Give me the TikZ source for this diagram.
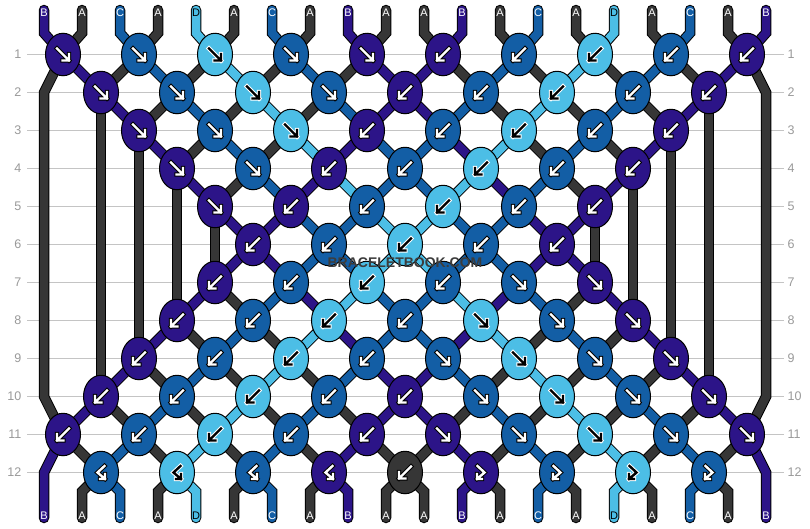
\documentclass[tikz,border=0pt]{standalone}
\usepackage{fontspec}
\setmainfont{Liberation Sans}
\usetikzlibrary{shapes.geometric}
\definecolor{colA}{HTML}{363636}
\definecolor{colB}{HTML}{2C1488}
\definecolor{colC}{HTML}{135EA5}
\definecolor{colD}{HTML}{4CBEE6}
\colorlet{arfgA}{white}\colorlet{arfgB}{white}\colorlet{arfgC}{white}\colorlet{arfgD}{black}
\colorlet{arbgA}{black}\colorlet{arbgB}{black}\colorlet{arbgC}{black}\colorlet{arbgD}{white}
\colorlet{labfgA}{white}\colorlet{labfgB}{white}\colorlet{labfgC}{white}\colorlet{labfgD}{black}
\definecolor{gridc}{HTML}{C4C4C4}
\definecolor{numc}{HTML}{9A9A9A}
\definecolor{wmc}{HTML}{3C3C3C}
\pgfdeclarelayer{grid}\pgfdeclarelayer{strands}\pgfsetlayers{grid,strands,main}
\tikzset{
 knot/.style={ellipse, draw=black, line width=1pt, minimum width=35pt, minimum height=42.5pt, inner sep=0pt},
 strandout/.style={line width=10.5pt, draw=black, line join=miter, line cap=round},
 strandin/.style={line width=8.5pt, line join=miter, line cap=round},
 lab/.style={font=\fontsize{11}{11}\selectfont, inner sep=0pt},
 num/.style={font=\fontsize{12.5}{12.5}\selectfont, text=numc, inner sep=0pt},
 gridline/.style={draw=gridc, line width=1pt}
}
\def\LO{{0,0,1,1,2,2,2,1,1,0,0,0}}
\def\HI{{9,8,8,7,7,6,7,7,8,8,9,8}}
\expandafter\def\csname row1\endcsname{0/B/F/A/B,1/C/F/A/C,2/D/F/A/D,3/C/F/A/C,4/B/F/A/B,5/B/B/B/A,6/C/B/C/A,7/D/B/D/A,8/C/B/C/A,9/B/B/B/A}
\expandafter\def\csname row2\endcsname{0/B/F/A/B,1/C/F/A/C,2/D/F/A/D,3/C/F/A/C,4/B/B/B/B,5/C/B/C/A,6/D/B/D/A,7/C/B/C/A,8/B/B/B/A}
\expandafter\def\csname row3\endcsname{1/B/F/A/B,2/C/F/A/C,3/D/F/A/D,4/B/B/B/C,5/C/B/C/B,6/D/B/D/A,7/C/B/C/A,8/B/B/B/A}
\expandafter\def\csname row4\endcsname{1/B/F/A/B,2/C/F/A/C,3/B/B/B/D,4/C/B/C/C,5/D/B/D/B,6/C/B/C/A,7/B/B/B/A}
\expandafter\def\csname row5\endcsname{2/B/F/A/B,3/B/B/B/C,4/C/B/C/D,5/D/B/D/C,6/C/B/C/B,7/B/B/B/A}
\expandafter\def\csname row6\endcsname{2/B/B/B/B,3/C/B/C/C,4/D/B/D/D,5/C/B/C/C,6/B/B/B/B}
\expandafter\def\csname row7\endcsname{2/B/B/B/A,3/C/B/C/B,4/D/B/D/C,5/C/B/C/D,6/C/F/B/C,7/B/F/A/B}
\expandafter\def\csname row8\endcsname{1/B/B/B/A,2/C/B/C/A,3/D/B/D/B,4/C/B/C/C,5/D/F/B/D,6/C/F/A/C,7/B/F/A/B}
\expandafter\def\csname row9\endcsname{1/B/B/B/A,2/C/B/C/A,3/D/B/D/A,4/C/B/C/B,5/C/F/B/C,6/D/F/A/D,7/C/F/A/C,8/B/F/A/B}
\expandafter\def\csname row10\endcsname{0/B/B/B/A,1/C/B/C/A,2/D/B/D/A,3/C/B/C/A,4/B/B/B/B,5/C/F/A/C,6/D/F/A/D,7/C/F/A/C,8/B/F/A/B}
\expandafter\def\csname row11\endcsname{0/B/B/B/A,1/C/B/C/A,2/D/B/D/A,3/C/B/C/A,4/B/B/B/A,5/B/F/A/B,6/C/F/A/C,7/D/F/A/D,8/C/F/A/C,9/B/F/A/B}
\expandafter\def\csname row12\endcsname{0/C/BF/A/C,1/D/BF/A/D,2/C/BF/A/C,3/B/BF/A/B,4/A/B/A/A,5/B/FB/B/A,6/C/FB/C/A,7/D/FB/D/A,8/C/FB/C/A}
\newcommand\arrowF[1]{\draw[#1] (-6,-6) -- (6,6) (6,-0.5) -- (6,6) -- (-0.5,6);}
\newcommand\arrowB[1]{\draw[#1] (6,-6) -- (-6,6) (-6,-0.5) -- (-6,6) -- (0.5,6);}
\newcommand\arrowBF[1]{\draw[#1] (3.5,-6.5) -- (-3.5,0) -- (4,6.5) (4,1.5) -- (4,6.5) -- (-1,6.5);}
\newcommand\arrowFB[1]{\draw[#1] (-3.5,-6.5) -- (3.5,0) -- (-4,6.5) (-4,1.5) -- (-4,6.5) -- (1,6.5);}
\newcommand\knotarrow[3]{%
  \edef\abg{arbg#3}\edef\afg{arfg#3}%
  \begin{scope}[shift={(#1.center)}, line join=miter, line cap=rect]
   \csname arrow#2\endcsname{line width=4.4pt, draw=\abg}
   \csname arrow#2\endcsname{line width=2.4pt, draw=\afg}
  \end{scope}}
\newcommand\strand[2]{\begin{pgfonlayer}{strands}\edef\sc{col#1}\draw[strandout] #2;\draw[strandin, draw=\sc] #2;\end{pgfonlayer}}
\newcommand\segs[4]{%
  \pgfmathtruncatemacro\rn{#1+1}%
  \pgfmathtruncatemacro\tlo{\LO[#1]}%
  \pgfmathtruncatemacro\thi{\HI[#1]}%
  \pgfmathtruncatemacro\isodd{mod(#1,2)}%
  \ifnum\isodd=1 \pgfmathtruncatemacro\kl{#2-1}\pgfmathtruncatemacro\kr{#2}%
  \else \pgfmathtruncatemacro\kl{#2}\pgfmathtruncatemacro\kr{#2+1}\fi
  \ifnum\kl<\tlo\relax\else\ifnum\kl>\thi\relax\else\strand{#3}{(n-#1-#2.center) -- (n-\rn-\kl.center)}\fi\fi
  \ifnum\kr<\tlo\relax\else\ifnum\kr>\thi\relax\else\strand{#4}{(n-#1-#2.center) -- (n-\rn-\kr.center)}\fi\fi
}
\begin{document}
\begin{tikzpicture}[x=1pt,y=-1pt]
\useasboundingbox (0,0) rectangle (810,528);
\begin{pgfonlayer}{grid}
\fill[white] (0,0) rectangle (810,528);
\end{pgfonlayer}
% rows: grid lines and numbers
\foreach \r in {1,...,12}{
  \pgfmathsetmacro\yy{54.5+38*(\r-1)}
  \begin{pgfonlayer}{grid}
  \draw[gridline] (27,\yy) -- (783.5,\yy);
  \end{pgfonlayer}
  \node[num, anchor=east] (ln\r) at (21.5,\yy) {\r};
  \node[num, anchor=west] (rn\r) at (787.5,\yy) {\r};
}
% knots
\foreach \r in {1,...,12}{
  \pgfmathtruncatemacro\isodd{mod(\r,2)}
  \ifnum\isodd=1 \def\xo{63}\else\def\xo{101}\fi
  \pgfmathsetmacro\yy{54.5+38*(\r-1)}
  \expandafter\let\expandafter\thelist\csname row\r\endcsname
  \foreach \kk/\kcol/\ktyp/\outl/\outr in \thelist {
    \edef\fc{col\kcol}
    \node[knot, fill=\fc] (n-\r-\kk) at ({\xo+76*\kk},\yy) {};
    \knotarrow{n-\r-\kk}{\ktyp}{\kcol}
  }
}
% diagonal strands between knots
\foreach \r in {1,...,11}{
  \expandafter\let\expandafter\thelist\csname row\r\endcsname
  \foreach \kk/\kcol/\ktyp/\outl/\outr in \thelist {
    \segs{\r}{\kk}{\outl}{\outr}
  }
}
% vertical strands
\strand{A}{(n-2-0.center) -- (n-10-0.center)}
\strand{A}{(n-3-1.center) -- (n-9-1.center)}
\strand{A}{(n-4-1.center) -- (n-8-1.center)}
\strand{A}{(n-5-2.center) -- (n-7-2.center)}
\strand{A}{(n-2-8.center) -- (n-10-8.center)}
\strand{A}{(n-3-8.center) -- (n-9-8.center)}
\strand{A}{(n-4-7.center) -- (n-8-7.center)}
\strand{A}{(n-5-7.center) -- (n-7-7.center)}
% edge strands
\coordinate (eLa) at (44,92.5);
\coordinate (eLb) at (44,396.5);
\coordinate (eRa) at (766,92.5);
\coordinate (eRb) at (766,396.5);
\strand{A}{(n-1-0.center) -- (eLa) -- (eLb) -- (n-11-0.center)}
\strand{A}{(n-1-9.center) -- (eRa) -- (eRb) -- (n-11-9.center)}
\coordinate (bLa) at (44,472.5);
\coordinate (bLb) at (44,518);
\coordinate (bRa) at (766,472.5);
\coordinate (bRb) at (766,518);
\strand{B}{(n-11-0.center) -- (bLa) -- (bLb)}
\strand{B}{(n-11-9.center) -- (bRa) -- (bRb)}
% top and bottom ends with labels
\foreach \p/\pc in {0/B,1/A,2/C,3/A,4/D,5/A,6/C,7/A,8/B,9/A,10/A,11/B,12/A,13/C,14/A,15/D,16/A,17/C,18/A,19/B}{
  \pgfmathsetmacro\xp{44+38*\p}
  \pgfmathtruncatemacro\kt{\p/2}
  \coordinate (top\p) at (\xp,10);
  \coordinate (topb\p) at (\xp,33);
  \strand{\pc}{(top\p) -- (topb\p) -- (n-1-\kt.center)}
  \ifnum\p>0 \ifnum\p<19
    \pgfmathtruncatemacro\kb{(\p-1)/2}
    \coordinate (bb\p) at (\xp,491.5);
    \coordinate (be\p) at (\xp,518);
    \strand{\pc}{(n-12-\kb.center) -- (bb\p) -- (be\p)}
  \fi\fi
  \edef\lc{labfg\pc}
  \node[lab, text=\lc] (lt\p) at (\xp,12.5) {\pc};
  \node[lab, text=\lc] (lb\p) at (\xp,516) {\pc};
}
\node[font=\bfseries\fontsize{14}{14}\selectfont, text=wmc, inner sep=0pt] (wm) at (405,263) {BRACELETBOOK.COM};
\end{tikzpicture}
\end{document}
